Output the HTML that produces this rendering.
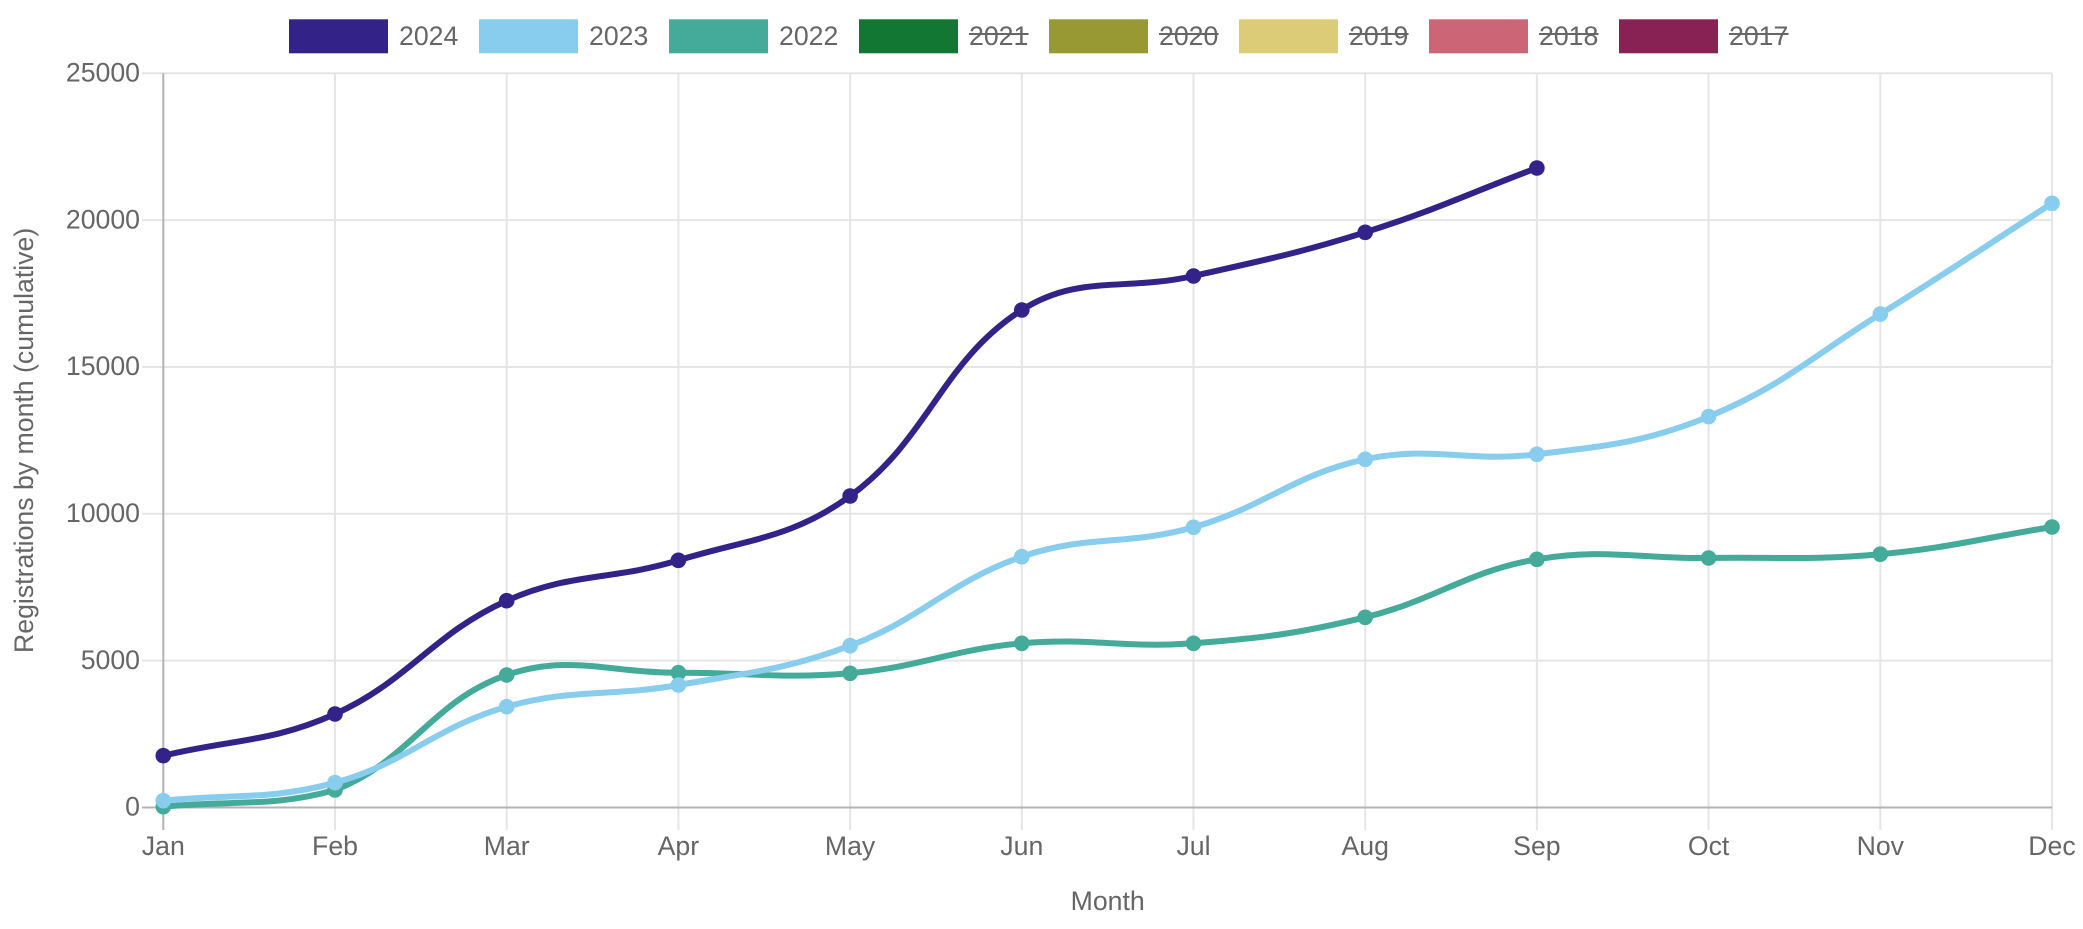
<!DOCTYPE html>
<html><head><meta charset="utf-8">
<style>
html,body{margin:0;padding:0;background:#fff;}
svg{display:block;font-family:"Liberation Sans",Arial,Helvetica,sans-serif;}
</style></head><body>
<svg id="c" width="2083" height="929" viewBox="0 0 2083 929" xmlns="http://www.w3.org/2000/svg">
<rect width="2083" height="929" fill="#fff"/>
<!-- legend -->
<g font-size="26.67" fill="#666">
<rect x="289" y="19.3" width="99" height="34" fill="#332288"/><text x="399" y="45">2024</text>
<rect x="479" y="19.3" width="99" height="34" fill="#88CCEE"/><text x="589" y="45">2023</text>
<rect x="669" y="19.3" width="99" height="34" fill="#44AA99"/><text x="779" y="45">2022</text>
<rect x="859" y="19.3" width="99" height="34" fill="#117733"/><text x="969" y="45">2021</text>
<rect x="1049" y="19.3" width="99" height="34" fill="#999933"/><text x="1159" y="45">2020</text>
<rect x="1239" y="19.3" width="99" height="34" fill="#DDCC77"/><text x="1349" y="45">2019</text>
<rect x="1429" y="19.3" width="99" height="34" fill="#CC6677"/><text x="1539" y="45">2018</text>
<rect x="1619" y="19.3" width="99" height="34" fill="#882255"/><text x="1729" y="45">2017</text>
</g>
<g stroke="#666" stroke-width="2">
<line x1="969" y1="34" x2="1028.5" y2="34"/>
<line x1="1159" y1="34" x2="1218.5" y2="34"/>
<line x1="1349" y1="34" x2="1408.5" y2="34"/>
<line x1="1539" y1="34" x2="1598.5" y2="34"/>
<line x1="1729" y1="34" x2="1788.5" y2="34"/>
</g>
<!-- grid -->
<g stroke="#e5e5e5" stroke-width="2">
<line x1="142" y1="660.65" x2="2052" y2="660.65"/>
<line x1="142" y1="513.8" x2="2052" y2="513.8"/>
<line x1="142" y1="366.95" x2="2052" y2="366.95"/>
<line x1="142" y1="220.1" x2="2052" y2="220.1"/>
<line x1="142" y1="73.25" x2="2052" y2="73.25"/>
<line x1="335" y1="73.25" x2="335" y2="830"/>
<line x1="506.7" y1="73.25" x2="506.7" y2="830"/>
<line x1="678.4" y1="73.25" x2="678.4" y2="830"/>
<line x1="850.1" y1="73.25" x2="850.1" y2="830"/>
<line x1="1021.8" y1="73.25" x2="1021.8" y2="830"/>
<line x1="1193.5" y1="73.25" x2="1193.5" y2="830"/>
<line x1="1365.2" y1="73.25" x2="1365.2" y2="830"/>
<line x1="1536.9" y1="73.25" x2="1536.9" y2="830"/>
<line x1="1708.6" y1="73.25" x2="1708.6" y2="830"/>
<line x1="1880.3" y1="73.25" x2="1880.3" y2="830"/>
<line x1="2052" y1="73.25" x2="2052" y2="830"/>
</g>
<g stroke="#b3b3b3" stroke-width="2">
<line x1="163.3" y1="73.25" x2="163.3" y2="830"/>
<line x1="142" y1="807.5" x2="2052" y2="807.5"/>
</g>
<!-- y tick labels -->
<g font-size="26.67" fill="#666" text-anchor="end">
<text x="140" y="81.5">25000</text>
<text x="140" y="228.3">20000</text>
<text x="140" y="375.2">15000</text>
<text x="140" y="522">10000</text>
<text x="140" y="668.9">5000</text>
<text x="140" y="815.7">0</text>
</g>
<!-- x tick labels -->
<g font-size="26.67" fill="#666" text-anchor="middle">
<text x="163.3" y="855">Jan</text>
<text x="335" y="855">Feb</text>
<text x="506.7" y="855">Mar</text>
<text x="678.4" y="855">Apr</text>
<text x="850.1" y="855">May</text>
<text x="1021.8" y="855">Jun</text>
<text x="1193.5" y="855">Jul</text>
<text x="1365.2" y="855">Aug</text>
<text x="1536.9" y="855">Sep</text>
<text x="1708.6" y="855">Oct</text>
<text x="1880.3" y="855">Nov</text>
<text x="2052" y="855">Dec</text>
</g>
<text x="1107.7" y="910" font-size="26.67" fill="#666" text-anchor="middle">Month</text>
<text transform="translate(33,440.4) rotate(-90)" font-size="26.67" fill="#666" text-anchor="middle">Registrations by month (cumulative)</text>

<!-- series 2022 -->
<path id="s0" fill="none" stroke="#44AA99" stroke-width="6" stroke-linejoin="round" d="M163.3,806.7 L335,790 L506.7,675 L678.4,672.7 L850.1,673.3 L1021.8,643.3 L1193.5,643.3 L1365.2,617.3 L1536.9,559.3 L1708.6,558 L1880.3,554.2 L2052,527"/>
<g fill="#44AA99">
<circle cx="163.3" cy="806.7" r="7.8"/><circle cx="335" cy="790" r="7.8"/><circle cx="506.7" cy="675" r="7.8"/><circle cx="678.4" cy="672.7" r="7.8"/><circle cx="850.1" cy="673.3" r="7.8"/><circle cx="1021.8" cy="643.3" r="7.8"/><circle cx="1193.5" cy="643.3" r="7.8"/><circle cx="1365.2" cy="617.3" r="7.8"/><circle cx="1536.9" cy="559.3" r="7.8"/><circle cx="1708.6" cy="558" r="7.8"/><circle cx="1880.3" cy="554.2" r="7.8"/><circle cx="2052" cy="527" r="7.8"/>
</g>
<!-- series 2023 -->
<path id="s1" fill="none" stroke="#88CCEE" stroke-width="6" stroke-linejoin="round" d="M163.3,800.7 L335,782.7 L506.7,706.7 L678.4,685 L850.1,645.7 L1021.8,556.7 L1193.5,527.3 L1365.2,459.3 L1536.9,454.3 L1708.6,416.6 L1880.3,314.1 L2052,203.3"/>
<g fill="#88CCEE">
<circle cx="163.3" cy="800.7" r="7.8"/><circle cx="335" cy="782.7" r="7.8"/><circle cx="506.7" cy="706.7" r="7.8"/><circle cx="678.4" cy="685" r="7.8"/><circle cx="850.1" cy="645.7" r="7.8"/><circle cx="1021.8" cy="556.7" r="7.8"/><circle cx="1193.5" cy="527.3" r="7.8"/><circle cx="1365.2" cy="459.3" r="7.8"/><circle cx="1536.9" cy="454.3" r="7.8"/><circle cx="1708.6" cy="416.6" r="7.8"/><circle cx="1880.3" cy="314.1" r="7.8"/><circle cx="2052" cy="203.3" r="7.8"/>
</g>
<!-- series 2024 -->
<path id="s2" fill="none" stroke="#332288" stroke-width="6" stroke-linejoin="round" d="M163.3,755.7 L335,714 L506.7,600.7 L678.4,560.3 L850.1,496 L1021.8,310 L1193.5,276 L1365.2,232.3 L1536.9,168"/>
<g fill="#332288">
<circle cx="163.3" cy="755.7" r="7.8"/><circle cx="335" cy="714" r="7.8"/><circle cx="506.7" cy="600.7" r="7.8"/><circle cx="678.4" cy="560.3" r="7.8"/><circle cx="850.1" cy="496" r="7.8"/><circle cx="1021.8" cy="310" r="7.8"/><circle cx="1193.5" cy="276" r="7.8"/><circle cx="1365.2" cy="232.3" r="7.8"/><circle cx="1536.9" cy="168" r="7.8"/>
</g>
</svg>
<script>
(function(){
var X=[163.3,335,506.7,678.4,850.1,1021.8,1193.5,1365.2,1536.9,1708.6,1880.3,2052];
var Y=[
[806.7,790,675,672.7,673.3,643.3,643.3,617.3,559.3,558,554.2,527],
[800.7,782.7,706.7,685,645.7,556.7,527.3,459.3,454.3,416.6,314.1,203.3],
[755.7,714,600.7,560.3,496,310,276,232.3,168]
];
var L=163.3,R=2052,T=73.25,B=807.5,t=0.4;
function cap(v,a,b){return Math.max(a,Math.min(b,v));}
for(var s=0;s<3;s++){
  var ys=Y[s],n=ys.length,P=[];
  for(var i=0;i<n;i++)P.push({x:X[i],y:ys[i]});
  for(var i=0;i<n;i++){
    var c=P[i],p=P[i-1]||c,nx=P[i+1]||c;
    var d01=Math.hypot(c.x-p.x,c.y-p.y),d12=Math.hypot(nx.x-c.x,nx.y-c.y);
    var s01=d01/(d01+d12),s12=d12/(d01+d12);
    if(isNaN(s01))s01=0;if(isNaN(s12))s12=0;
    var fa=t*s01,fb=t*s12;
    c.px=cap(c.x-fa*(nx.x-p.x),L,R);c.py=cap(c.y-fa*(nx.y-p.y),T,B);
    c.nx=cap(c.x+fb*(nx.x-p.x),L,R);c.ny=cap(c.y+fb*(nx.y-p.y),T,B);
  }
  var d="M"+P[0].x+","+P[0].y;
  for(var i=1;i<n;i++){
    d+=" C"+P[i-1].nx.toFixed(2)+","+P[i-1].ny.toFixed(2)+" "+P[i].px.toFixed(2)+","+P[i].py.toFixed(2)+" "+P[i].x+","+P[i].y;
  }
  document.getElementById("s"+s).setAttribute("d",d);
}
})();
</script>
</body></html>
